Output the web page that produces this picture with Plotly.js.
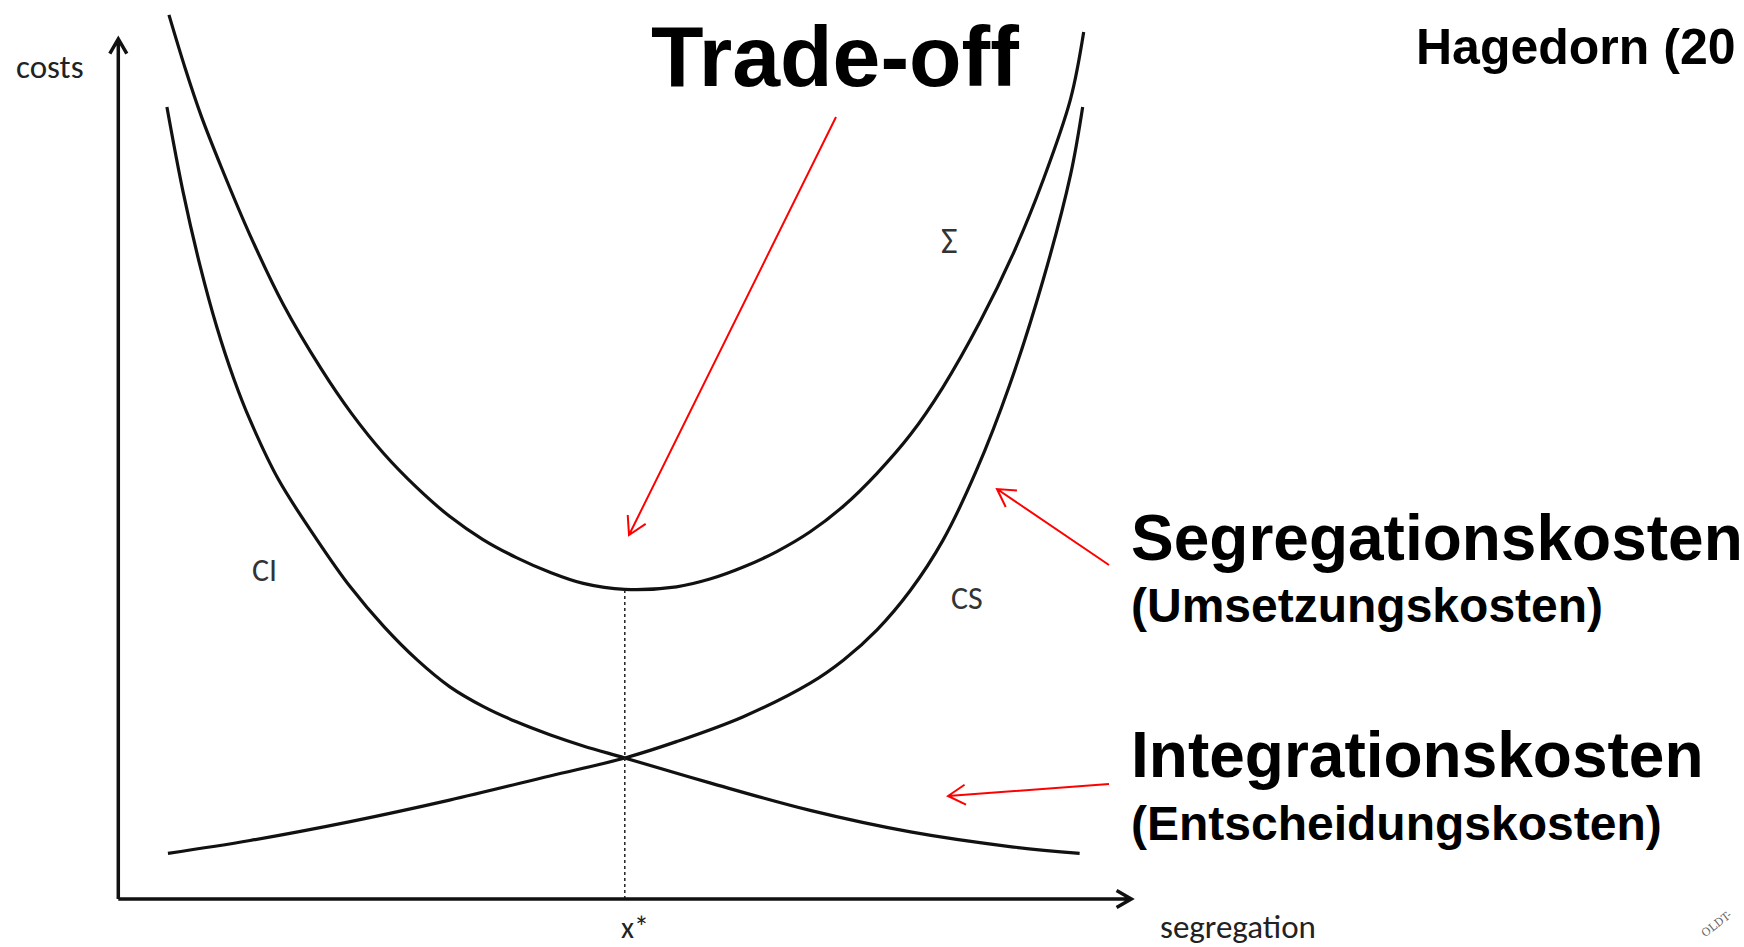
<!DOCTYPE html>
<html>
<head>
<meta charset="utf-8">
<script src="https://cdn.plot.ly/plotly-3.0.1.min.js"></script>
<style>
html,body{margin:0;padding:0;background:#fff;overflow:hidden}
#chart{width:1744px;height:947px}
</style>
</head>
<body>
<div id="chart"></div>
<script>
// ---------------- DATA ----------------
// Sum of costs (Σ)
const sumX = [0.5, 0.66, 0.82, 1.02, 1.30, 1.63, 2.0, 2.3, 2.62, 2.95, 3.27, 3.6, 3.93, 4.26, 4.59, 5.0, 5.51, 5.84, 6.17, 6.50, 6.83, 7.16, 7.49, 7.82, 8.14, 8.51, 8.84, 9.13, 9.40, 9.53];
const sumY = [10.28, 9.66, 9.10, 8.50, 7.72, 6.91, 6.17, 5.65, 5.18, 4.78, 4.45, 4.18, 3.97, 3.80, 3.67, 3.60, 3.63, 3.72, 3.86, 4.04, 4.27, 4.57, 4.95, 5.40, 5.95, 6.72, 7.52, 8.36, 9.30, 10.08];
// Integration costs (CI)
const ciX = [0.48, 0.64, 0.81, 0.97, 1.14, 1.30, 1.58, 1.96, 2.29, 2.62, 2.95, 3.27, 3.60, 3.93, 4.26, 4.59, 5.0, 5.84, 6.83, 7.82, 8.80, 9.49];
const ciY = [9.21, 8.22, 7.35, 6.66, 6.05, 5.57, 4.88, 4.18, 3.63, 3.17, 2.78, 2.47, 2.24, 2.06, 1.91, 1.78, 1.64, 1.35, 1.03, 0.78, 0.61, 0.53];
// Segregation costs (CS)
const csX = [0.49, 1.30, 2.29, 3.27, 4.26, 5.0, 5.51, 6.17, 6.83, 7.16, 7.49, 7.82, 8.14, 8.47, 8.80, 9.13, 9.40, 9.52];
const csY = [0.53, 0.68, 0.90, 1.15, 1.43, 1.64, 1.83, 2.12, 2.51, 2.78, 3.13, 3.59, 4.17, 4.98, 5.98, 7.20, 8.42, 9.21];
// optimum
const xStar = 5.0;
const xStarLabel = "x*";
const axisMax = 10;
const curveLabels = ["CI", "CS", "Σ"];
const axisLabels = ["costs", "segregation"];
const titleText = "Trade-off";
const sourceText = "Hagedorn (20";
const segText = ["Segregationskosten", "(Umsetzungskosten)"];
const intText = ["Integrationskosten", "(Entscheidungskosten)"];

// ---------------- LAYOUT GEOMETRY ----------------
const W = 1744, H = 947;
const X0PX = 118.3, XPX = 101.3;   // pixel of x=0, pixels per unit
const Y0PX = 899, YPX = 86;        // pixel of y=0, pixels per unit
const toPx = (x, y) => [X0PX + x * XPX, Y0PX - y * YPX];
const px2paper = (p) => [p[0] / W, 1 - p[1] / H];
const P = (p) => { const q = px2paper(p); return q[0].toFixed(5) + "," + q[1].toFixed(5); };

function arrowPath(tail, tip, len, ang) {
  const dx = tip[0] - tail[0], dy = tip[1] - tail[1];
  const d = Math.hypot(dx, dy);
  const ux = -dx / d, uy = -dy / d;
  const rot = (a) => [ux * Math.cos(a) - uy * Math.sin(a), ux * Math.sin(a) + uy * Math.cos(a)];
  const a1 = rot(ang), a2 = rot(-ang);
  const p1 = [tip[0] + a1[0] * len, tip[1] + a1[1] * len];
  const p2 = [tip[0] + a2[0] * len, tip[1] + a2[1] * len];
  return "M" + P(tail) + " L" + P(tip) + " M" + P(p1) + " L" + P(tip) + " L" + P(p2);
}

const sumMin = Math.min(...sumY);
const curveLine = {color: "#111", width: 3.2, shape: "spline", smoothing: 1};

const traces = [
  {x: sumX, y: sumY, mode: "lines", line: curveLine, hoverinfo: "skip"},
  {x: ciX, y: ciY, mode: "lines", line: curveLine, hoverinfo: "skip"},
  {x: csX, y: csY, mode: "lines", line: curveLine, hoverinfo: "skip"},
  {x: [xStar, xStar], y: [0, sumMin], mode: "lines", line: {color: "#222", width: 1.5, dash: "dot"}, hoverinfo: "skip"}
];

const calib = "Carlito, Lato, 'Open Sans', sans-serif";
const arial = "'Liberation Sans', Arial, sans-serif";

// axis arrows (from data)
const origin = toPx(0, 0);
const xEnd = toPx(axisMax, 0);
const yEnd = toPx(0, axisMax);

// red pointer arrows (pixel layout)
const redArrows = [
  {tail: [836, 117], tip: [629, 535]},
  {tail: [1109, 565], tip: [997, 489]},
  {tail: [1109, 784], tip: [948, 796]}
];

const shapes = [
  {type: "path", xref: "paper", yref: "paper", path: arrowPath(origin, xEnd, 17, Math.PI / 6), line: {color: "#111", width: 3.5}},
  {type: "path", xref: "paper", yref: "paper", path: arrowPath(origin, yEnd, 17, Math.PI / 6), line: {color: "#111", width: 3.5}}
];
redArrows.forEach(a => shapes.push({type: "path", xref: "paper", yref: "paper", path: arrowPath(a.tail, a.tip, 20, Math.PI / 6), line: {color: "#ff0000", width: 2}}));

function txt(text, pxPos, size, family, opts) {
  const q = px2paper(pxPos);
  return Object.assign({
    text: text, x: q[0], y: q[1], xref: "paper", yref: "paper",
    showarrow: false, xanchor: "center", yanchor: "middle",
    font: {family: family, size: size, color: "#000"}
  }, opts || {});
}

const ciLab = toPx(1.44, 3.82);
const csLab = toPx(8.38, 3.49);
const sgLab = toPx(8.21, 7.65);
const xsLab = toPx(xStar, 0);

const annotations = [
  txt(axisLabels[0], [50, 67], 33, calib, {font: {family: calib, size: 33, color: "#222"}}),
  txt(axisLabels[1], [1238, 927], 33, calib, {font: {family: calib, size: 33, color: "#222"}}),
  txt(xStarLabel, [xsLab[0] + 10, 927], 30, calib, {font: {family: calib, size: 30, color: "#222"}}),
  txt(curveLabels[0], ciLab, 32, calib, {font: {family: calib, size: 32, color: "#333"}}),
  txt(curveLabels[1], csLab, 32, calib, {font: {family: calib, size: 32, color: "#333"}}),
  txt(curveLabels[2], sgLab, 36, calib, {font: {family: calib, size: 36, color: "#333"}}),
  txt(titleText, [835, 56], 86, arial, {font: {family: arial, size: 86, color: "#000", weight: "bold"}}),
  txt(sourceText, [1414, 47], 50, arial, {xanchor: "left", font: {family: arial, size: 50, color: "#000", weight: "bold"}}),
  txt(segText[0], [1129, 538], 64, arial, {xanchor: "left", font: {family: arial, size: 64, color: "#000", weight: "bold"}}),
  txt(segText[1], [1129, 605], 48, arial, {xanchor: "left", font: {family: arial, size: 48, color: "#000", weight: "bold"}}),
  txt(intText[0], [1129, 755], 64, arial, {xanchor: "left", font: {family: arial, size: 64, color: "#000", weight: "bold"}}),
  txt(intText[1], [1129, 823], 48, arial, {xanchor: "left", font: {family: arial, size: 48, color: "#000", weight: "bold"}}),
  txt("OLDT-", [1716, 924], 11, "'DejaVu Serif', serif", {textangle: -38, font: {family: "'DejaVu Serif', serif", size: 11, color: "#666"}})
];

const layout = {
  width: W, height: H, autosize: false,
  margin: {l: 0, r: 0, t: 0, b: 0, pad: 0},
  paper_bgcolor: "#fff", plot_bgcolor: "#fff",
  showlegend: false,
  xaxis: {range: [-X0PX / XPX, (W - X0PX) / XPX], visible: false, fixedrange: true},
  yaxis: {range: [-(H - Y0PX) / YPX, Y0PX / YPX], visible: false, fixedrange: true},
  shapes: shapes,
  annotations: annotations
};

Plotly.newPlot("chart", traces, layout, {staticPlot: true, displayModeBar: false});
</script>
</body>
</html>
